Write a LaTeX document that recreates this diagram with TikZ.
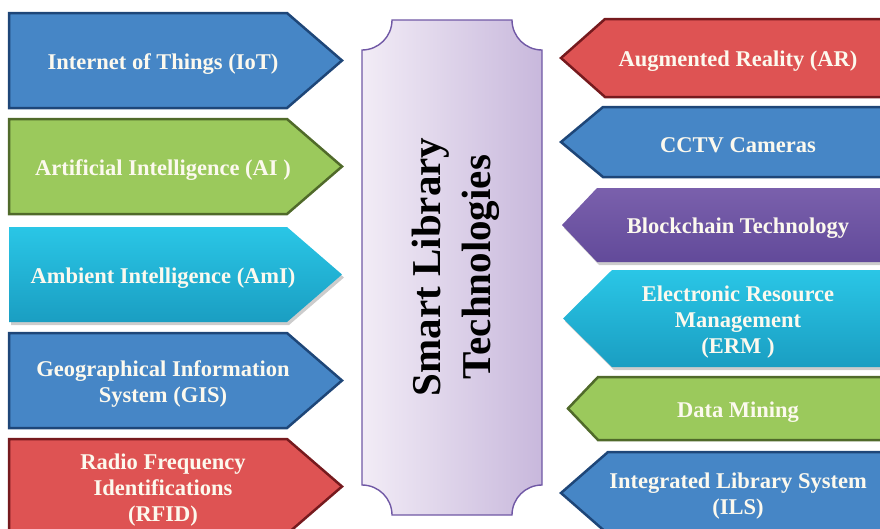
\documentclass[tikz,border=0pt]{standalone}
\usepackage{fontspec}
\setmainfont{Liberation Serif}
\usetikzlibrary{shadows}

\definecolor{techblue}{RGB}{70,134,198}
\definecolor{techblueline}{RGB}{30,70,120}
\definecolor{techgreen}{RGB}{155,201,92}
\definecolor{techgreenline}{RGB}{80,106,42}
\definecolor{techred}{RGB}{222,83,83}
\definecolor{techredline}{RGB}{118,26,30}
\definecolor{cyantop}{RGB}{42,198,230}
\definecolor{cyanbottom}{RGB}{26,158,194}
\definecolor{purpletop}{RGB}{122,96,172}
\definecolor{purplebottom}{RGB}{98,74,154}
\definecolor{scrollleft}{RGB}{242,236,246}
\definecolor{scrollright}{RGB}{200,184,220}
\definecolor{scrollline}{RGB}{112,88,165}
\definecolor{labelwhite}{RGB}{252,249,238}

\tikzset{
  box/.style={line width=2.5pt, line join=miter},
  bluebox/.style={box, fill=techblue, draw=techblueline},
  greenbox/.style={box, fill=techgreen, draw=techgreenline},
  redbox/.style={box, fill=techred, draw=techredline},
  softshadow/.style={drop shadow={shadow xshift=2pt, shadow yshift=-3pt, fill=black!40, opacity=.5}},
  cyanbox/.style={softshadow, top color=cyantop, bottom color=cyanbottom},
  purplebox/.style={softshadow, top color=purpletop, bottom color=purplebottom},
  lbl/.style={text=labelwhite, font=\bfseries\fontsize{22.5}{26}\selectfont, align=center, inner sep=0pt, yshift=-3.5pt},
}

\begin{document}
\begin{tikzpicture}[x=1pt, y=-1pt]
\clip (0,0) rectangle (880,528);

% left column
\foreach \nm/\ya/\sty/\txt in {
  iot/13/bluebox/{Internet of Things (IoT)},
  ai/119/greenbox/{Artificial Intelligence (AI )},
  ami/227/cyanbox/{Ambient Intelligence (AmI)},
  gis/333/bluebox/{Geographical Information\\System (GIS)},
  rfid/439/redbox/{Radio Frequency\\Identifications\\(RFID)}}{
  \path[\sty] (9,\ya) -- (287,\ya) -- (342,\ya+47.5) -- (287,\ya+95) -- (9,\ya+95) -- cycle;
  \node[lbl] (\nm) at (163,\ya+47.5) {\txt};
}

% right column
\foreach \nm/\ya/\yb/\s/\tip/\sty/\txt in {
  ar/19/97/605/561/redbox/{Augmented Reality (AR)},
  cctv/107/177/603/561/bluebox/{CCTV Cameras},
  bc/188/262/597/562/purplebox/{Blockchain Technology},
  erm/270/367/612/563/cyanbox/{Electronic Resource\\Management\\(ERM )},
  dm/377/440/598/568/greenbox/{Data Mining},
  ils/452/534/608/561/bluebox/{Integrated Library System\\(ILS)}}{
  \path[\sty] (895,\ya) -- (\s,\ya) -- (\tip,{(\ya+\yb)/2}) -- (\s,\yb) -- (895,\yb) -- cycle;
  \node[lbl] (\nm) at (738,{(\ya+\yb)/2}) {\txt};
}

% centre scroll
\path[left color=scrollleft, right color=scrollright, draw=scrollline, line width=1.4pt]
  (392,20) -- (512,20) arc[start angle=180, end angle=90, radius=30]
  -- (542,485) arc[start angle=-90, end angle=-180, radius=30]
  -- (392,515) arc[start angle=0, end angle=-90, radius=30]
  -- (362,50) arc[start angle=90, end angle=0, radius=30] -- cycle;
\node[rotate=90, align=center, inner sep=0pt, font=\bfseries\fontsize{41}{50}\selectfont] (title) at (456,267) {Smart Library\\Technologies};
\end{tikzpicture}
\end{document}
